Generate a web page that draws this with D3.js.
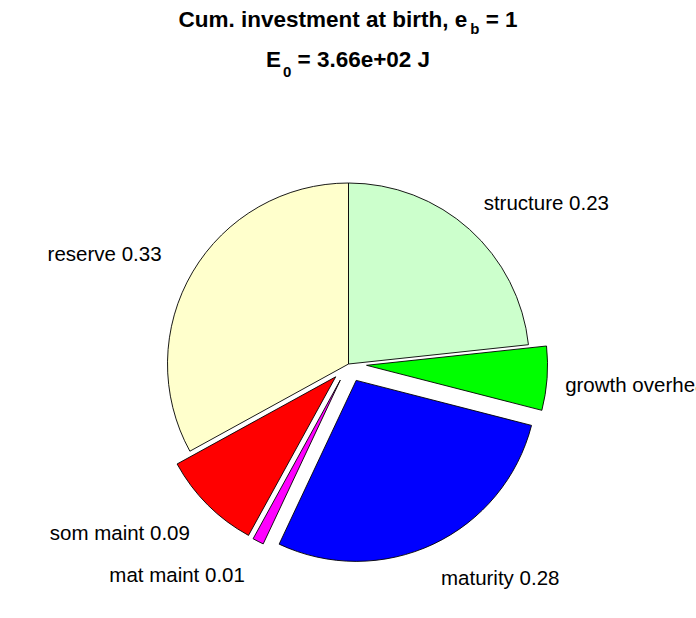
<!DOCTYPE html>
<html>
<head>
<meta charset="utf-8">
<script src="https://cdn.jsdelivr.net/npm/d3@7"></script>
<style>
  html, body { margin: 0; padding: 0; background: #fff; }
  svg { display: block; }
</style>
</head>
<body>
<svg id="chart" width="696" height="618"></svg>
<script>
// ---- data ----
const categories = ["structure", "growth overhead", "maturity", "mat maint", "som maint", "reserve"];
const values = [0.233, 0.057, 0.28, 0.01, 0.09, 0.33];
const exploded = [0, 1, 1, 1, 1, 0];
const colors = ["#ccffcc", "#00ff00", "#0000ff", "#ff00ff", "#ff0000", "#ffffcc"];
const titleLine1 = ["Cum. investment at birth, e", "b", " = 1"];
const titleLine2 = ["E", "0", " = 3.66e+02 J"];

// ---- layout ----
const W = 696, H = 618;
const cx = 348.5, cy = 364, R = 181;
const svg = d3.select("#chart");
svg.append("rect").attr("width", W).attr("height", H).attr("fill", "#fff");

const font = "'Liberation Sans', Arial, Helvetica, sans-serif";

// title
const t1 = svg.append("text").attr("x", 348).attr("y", 27)
  .attr("text-anchor", "middle").attr("font-family", font)
  .attr("font-weight", "bold").attr("font-size", 22.5).attr("fill", "#000");
t1.append("tspan").text(titleLine1[0]);
t1.append("tspan").attr("dx", 3).attr("dy", 7).attr("font-size", 15).text(titleLine1[1]);
t1.append("tspan").attr("dy", -7).text(titleLine1[2]);

const t2 = svg.append("text").attr("x", 348).attr("y", 67)
  .attr("text-anchor", "middle").attr("font-family", font)
  .attr("font-weight", "bold").attr("font-size", 22.5).attr("fill", "#000");
t2.append("tspan").text(titleLine2[0]);
t2.append("tspan").attr("dx", 2).attr("dy", 10).attr("font-size", 15).text(titleLine2[1]);
t2.append("tspan").attr("dy", -10).text(titleLine2[2]);

// pie
const data = categories.map((c, i) => ({ name: c, value: values[i], explode: exploded[i], color: colors[i] }));
const pie = d3.pie().value(d => d.value).sort(null).startAngle(0).endAngle(2 * Math.PI);
const arcs = pie(data);
const arc = d3.arc().innerRadius(0).outerRadius(R);

const g = svg.append("g").attr("transform", `translate(${cx},${cy})`);
const off = 0.1 * R;

g.selectAll("path.slice").data(arcs).enter().append("path")
  .attr("class", "slice")
  .attr("d", arc)
  .attr("transform", d => {
    const m = (d.startAngle + d.endAngle) / 2;
    const e = d.data.explode ? off : 0;
    return `translate(${e * Math.sin(m)},${-e * Math.cos(m)})`;
  })
  .attr("fill", d => d.data.color)
  .attr("stroke", "#000")
  .attr("stroke-width", 0.9)
  .attr("stroke-linejoin", "miter");

// labels
g.selectAll("text.lbl").data(arcs).enter().append("text")
  .attr("class", "lbl")
  .each(function(d) {
    const m = (d.startAngle + d.endAngle) / 2;
    const s = Math.sin(m), c = Math.cos(m);
    const x = 1.2 * R * s - (c > 0.6 ? 15 * s : 0) + (c < -0.6 && s < 0 ? -5 : 0);
    const y = -1.2 * R * c + 18 * Math.sqrt(Math.max(0, -c));
    d3.select(this)
      .attr("x", x).attr("y", y).attr("dy", "0.35em")
      .attr("text-anchor", Math.abs(s) < 0.05 ? "middle" : (s > 0 ? "start" : "end"));
  })
  .attr("font-family", font)
  .attr("font-size", 20.5)
  .attr("fill", "#000")
  .text(d => `${d.data.name} ${d.data.value.toFixed(2)}`);
</script>
</body>
</html>
